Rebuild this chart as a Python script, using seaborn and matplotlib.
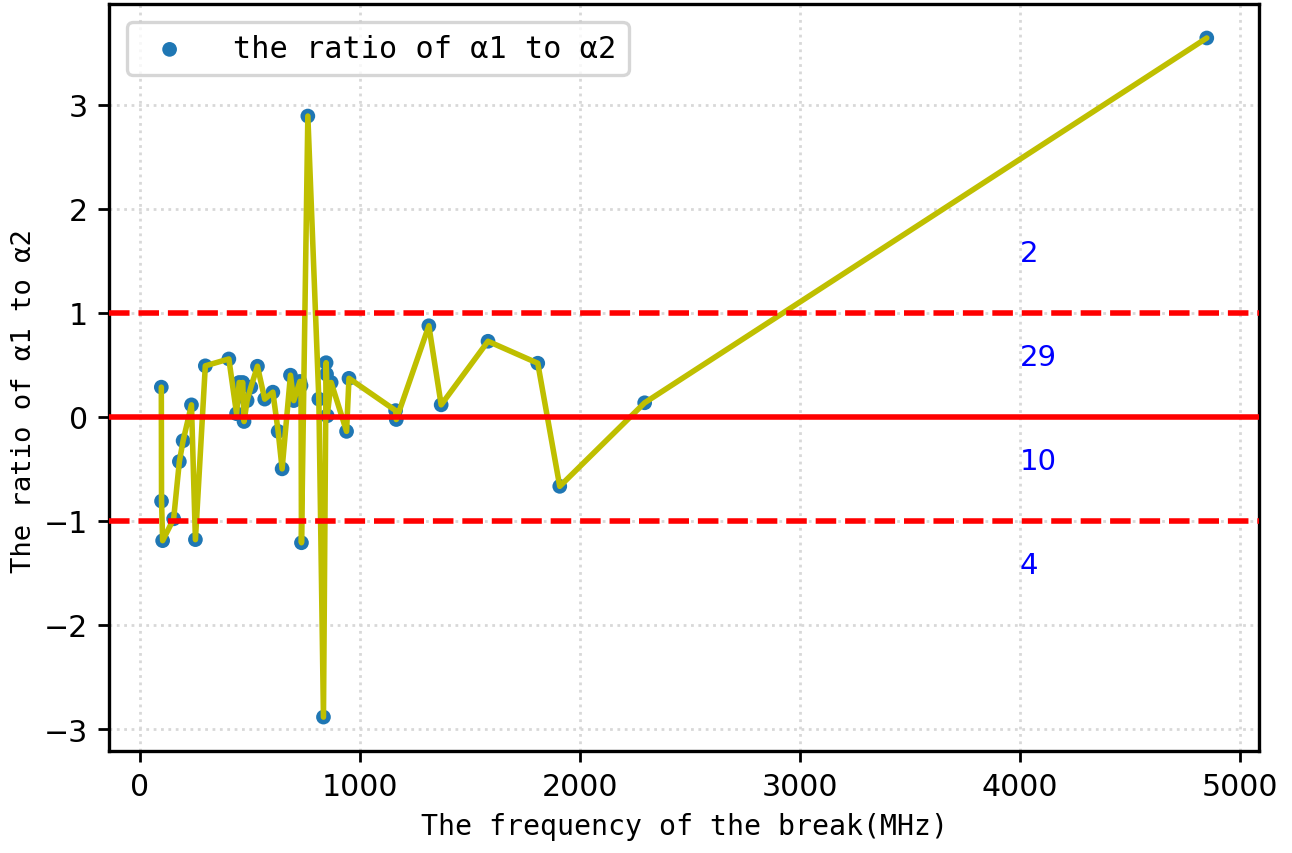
import matplotlib
matplotlib.use("Agg")
import matplotlib.pyplot as plt
import seaborn as sns
import numpy as np
import pandas as pd

# break frequency (MHz) and the ratio of alpha1 to alpha2 at each break
freq = [98, 99, 104, 154, 180, 197, 235, 253, 298, 405,
        440, 452, 462, 468, 474, 488, 505, 535, 568, 605,
        629, 647, 685, 700, 728, 733, 735, 764, 814, 835,
        847, 849, 852, 870, 940, 951, 1163, 1166, 1314, 1370,
        1583, 1809, 1909, 2295, 4850]
ratio = [0.285, -0.81, -1.19, -0.98, -0.43, -0.23, 0.115, -1.18, 0.49, 0.556,
         0.03, 0.33, 0.30, 0.33, -0.045, 0.156, 0.285, 0.486, 0.17, 0.237,
         -0.14, -0.50, 0.40, 0.156, 0.34, 0.30, -1.21, 2.89, 0.17, -2.885,
         0.52, 0.41, 0.01, 0.33, -0.14, 0.37, 0.06, -0.026, 0.875, 0.115,
         0.726, 0.515, -0.668, 0.135, 3.64]

x_ticks = [0, 1000, 2000, 3000, 4000, 5000]
y_ticks = [-3, -2, -1, 0, 1, 2, 3]
bands = [(1, np.inf, 1.5), (0, 1, 0.5), (-1, 0, -0.5), (-np.inf, -1, -1.5)]

df = pd.DataFrame({"freq": freq, "ratio": ratio})

sns.set_theme(style="ticks")
plt.rcParams["font.family"] = ["DejaVu Sans"]
plt.rcParams["text.color"] = "black"
plt.rcParams["axes.labelcolor"] = "black"
plt.rcParams["xtick.color"] = "black"
plt.rcParams["ytick.color"] = "black"
mono = ["DejaVu Sans Mono", "DejaVu Sans"]

fig = plt.figure(figsize=(6.46, 4.27), dpi=200)
ax = fig.add_axes([0.0844, 0.1194, 0.8901, 0.8747])

sns.scatterplot(data=df, x="freq", y="ratio", ax=ax, s=28, color="#1f77b4",
                edgecolor="none", label="the ratio of α1 to α2", zorder=2)
sns.lineplot(data=df, x="freq", y="ratio", ax=ax, sort=False, estimator=None,
             color=(0.75, 0.75, 0.0), linewidth=2.0, legend=False, zorder=3)

ax.axhline(0, color="red", linewidth=2.0, zorder=4)
ax.axhline(1, color="red", linewidth=2.0, linestyle="--", zorder=4)
ax.axhline(-1, color="red", linewidth=2.0, linestyle="--", zorder=4)

# number of breaks falling in each band
r = np.asarray(ratio)
for lo, hi, ypos in bands:
    n = int(np.sum((r > lo) & (r < hi)))
    ax.text(4000, ypos, str(n), color="blue", fontsize=10.5)

ax.set_xticks(x_ticks)
ax.set_yticks(y_ticks)
ax.tick_params(axis="both", labelsize=10.8, length=4, width=1, color="black",
               labelcolor="black", direction="out")
ax.grid(True, linestyle=":", color="#d8d8d8", linewidth=1)
for sp in ax.spines.values():
    sp.set_color("black")
    sp.set_linewidth(1.2)

ax.set_xlabel("The frequency of the break(MHz)", family=mono, fontsize=10.2,
              labelpad=4)
ax.set_ylabel("The ratio of α1 to α2", family=mono, fontsize=9.8)
ax.yaxis.set_label_coords(-0.063, 0.47)

leg = ax.legend(loc="upper left", prop={"family": mono, "size": 10.9},
                handletextpad=1.1, borderaxespad=0.6, frameon=True,
                fancybox=True, framealpha=0.8, edgecolor="#cccccc")
leg.get_frame().set_linewidth(1.2)

fig.savefig("out.png", dpi=200)
